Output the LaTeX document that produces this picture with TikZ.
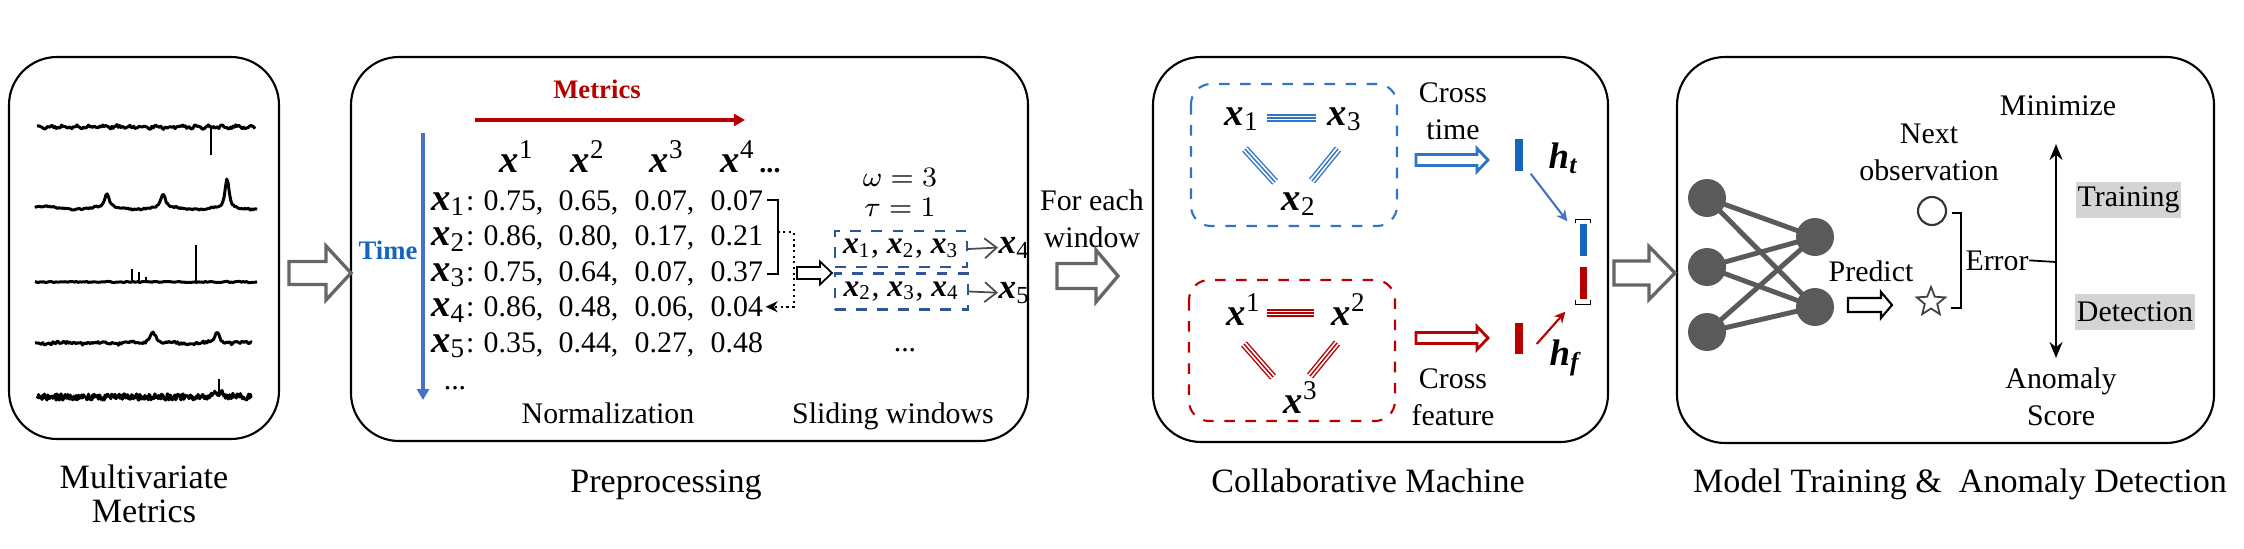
\documentclass[tikz,border=0pt]{standalone}
\usepackage{fontspec}
\setmainfont{Liberation Serif}
\usetikzlibrary{calc,arrows.meta,positioning,shapes.geometric}
\definecolor{arrgray}{HTML}{666666}
\definecolor{nngray}{HTML}{5A5A5A}
\definecolor{timec}{HTML}{1565C0}
\definecolor{timearr}{HTML}{4472C4}
\definecolor{timebox}{HTML}{2E75C8}
\definecolor{featc}{HTML}{B80000}
\definecolor{winc}{HTML}{2F5597}
\definecolor{hlgray}{HTML}{D4D4D4}
\newcommand{\bx}{\textbf{\textit{x}}}
\newcommand{\bh}{\textbf{\textit{h}}}
\tikzset{
  panel/.style={draw=black,line width=0.6pt,rounded corners=4.8mm},
  lbl/.style={font=\fontsize{8.5}{10.6}\selectfont,inner sep=0pt,align=center},
  captxt/.style={font=\fontsize{9.7}{9.5}\selectfont,inner sep=0pt,align=center},
  vec/.style={font=\fontsize{11}{13}\selectfont,inner sep=0pt},
  boldlbl/.style={font=\bfseries\fontsize{7.6}{9}\selectfont,inner sep=0pt},
  series/.style={line width=0.85pt,line join=round},
  winbox/.style={draw=winc,dashed,line width=0.6pt,minimum width=13.2mm,minimum height=3.6mm,inner sep=0pt,font=\fontsize{9}{11}\selectfont},
  bar/.style={inner sep=0pt,minimum width=0.8mm,minimum height=3.2mm},
  neuron/.style={circle,fill=nngray,inner sep=0pt,minimum size=3.8mm},
  hlbox/.style={fill=hlgray,inner sep=0pt,minimum height=3.6mm,font=\fontsize{8.5}{10}\selectfont},
  tri/.style={draw=#1,line width=0.4pt,preaction={draw=#1,double=white,double distance=1.4pt,line width=0.4pt}},
  thinarr/.style={black!70,line width=0.5pt,-{Straight Barb[length=1.2mm,width=2mm]}},
  pics/fatarrow/.style args={#1/#2/#3/#4}{code={
    \draw[pic actions] (0,-#2)--(#1-#4,-#2)--(#1-#4,-#3)--(#1,0)--(#1-#4,#3)--(#1-#4,#2)--(0,#2)--cycle;}}
}

\begin{document}
\begin{tikzpicture}[x=0.1mm,y=-0.1mm]
\useasboundingbox (0,0) rectangle (2244,548);
% the four panels
\draw[panel] (9,57) rectangle (279,439);
\draw[panel] (351,57) rectangle (1028,441);
\draw[panel] (1153,57) rectangle (1608,442);
\draw[panel] (1677,57) rectangle (2214,443);

% raw metrics
\pgfmathsetseed{11}
\draw[series] plot[domain=37:255,samples=170] (\x,{127+1.1*sin(27*\x)+1.4*rand});
\draw[series] (211,126)--(211,155);
\draw[series] plot[domain=35:257,samples=170] (\x,{208+1.5*sin(6*\x)+0.8*rand-13*(1/(1+((\x-107)/4)^2))^2-13*(1/(1+((\x-163)/4)^2))^2-28*(1/(1+((\x-227)/3.5)^2))^2});
\draw[series] plot[domain=35:257,samples=130] (\x,{282+0.6*rand});
\draw[series] (132,282)--(132,269) (139,282)--(139,272) (146,282)--(146,277) (196,282)--(196,245);
\draw[series] plot[domain=35:252,samples=170] (\x,{343+1.4*rand+0.8*sin(10*\x)-12*(1/(1+((\x-153)/5)^2))^2-10*(1/(1+((\x-217)/5)^2))^2});
\draw[series] plot[domain=37:252,samples=260] (\x,{397+3.2*rand-5/(1+((\x-219)/5)^2)});
\draw[series] (219,397)--(219,379);
\node[captxt] (capA) at (144,494) {Multivariate\\Metrics};

\pic[draw=arrgray,fill=white,line width=0.95pt] at (289,273) {fatarrow={62/11.5/27/25}};

% preprocessing
\node[boldlbl,text=featc,anchor=base] (mlab) at (597,98) {Metrics};
\coordinate (m0) at (475,120);
\coordinate (m1) at (745,120);
\draw[featc,line width=1pt,-{Triangle[length=1.1mm,width=1.2mm]}] (m0) -- (m1);
\node[boldlbl,text=timec,anchor=base] (tlab) at (388,259) {Time};
\coordinate (t0) at (423,133);
\coordinate (t1) at (423,400);
\draw[timearr,line width=0.9pt,-{Triangle[length=1.1mm,width=1.2mm]}] (t0) -- (t1);

\foreach \c/\xx in {1/517,2/588,3/667,4/738}
  \node[vec,anchor=base] (hd\c) at (\xx,172) {\bx\textsuperscript{\c}};
\node[font=\bfseries\itshape\fontsize{8}{9}\selectfont,inner sep=0pt,anchor=base] (hdots) at (771,172) {...};

\foreach \i/\va/\vb/\vc/\vd in {1/0.75/0.65/0.07/0.07,2/0.86/0.80/0.17/0.21,3/0.75/0.64/0.07/0.37,4/0.86/0.48/0.06/0.04,5/0.35/0.44/0.27/0.48}{
  \node[vec,anchor=base east] (x\i) at (475,{210+35.5*(\i-1)}) {\bx\textsubscript{\i}\fontsize{8.5}{10}\selectfont:};
  \node[lbl,anchor=base west] (r\i-1) at (483,{210+35.5*(\i-1)}) {\va,};
  \node[lbl,anchor=base west] (r\i-2) at (558,{210+35.5*(\i-1)}) {\vb,};
  \node[lbl,anchor=base west] (r\i-3) at (634,{210+35.5*(\i-1)}) {\vc,};
  \node[lbl,anchor=base west] (r\i-4) at (710,{210+35.5*(\i-1)}) {\vd};
}
\node[lbl] (rdots) at (455,388) {...};
\node[lbl,anchor=base] (norm) at (608,423) {Normalization};

\draw[line width=0.5pt] ($(r1-4.east)+(3,0)$) -- ++(11,0) coordinate (brtop) |- ($(r3-4.east)+(3,3)$);
\coordinate (brmid) at ($(brtop)+(0,32)$);
\draw[densely dotted,line width=0.6pt,-{Stealth[length=1.2mm,width=1.1mm]}] (brmid) -| ($(r4-4.east)+(30,0)$) -- ($(r4-4.east)+(2,0)$);

\pic[draw=black,fill=white,line width=0.5pt] at (797,273) {fatarrow={35/6/11.5/12}};

\node[lbl] (omega) at (900,177) {$\omega=3$};
\node[lbl] (tau) at (900,207) {$\tau=1$};
\node[winbox] (w1) at (901,249) {\bx\textsubscript{1}, \bx\textsubscript{2}, \bx\textsubscript{3}};
\node[winbox,minimum width=13.3mm] (w2) at (901.5,291.5) {\bx\textsubscript{2}, \bx\textsubscript{3}, \bx\textsubscript{4}};
\node[vec,font=\fontsize{10}{12}\selectfont,anchor=base west] (n4) at (998,253) {\bx\textsubscript{4}};
\node[vec,font=\fontsize{10}{12}\selectfont,anchor=base west] (n5) at (998,298) {\bx\textsubscript{5}};
\draw[thinarr] (w1.east) -- (n4.west);
\draw[thinarr] (w2.east) -- (n5.west);
\node[lbl] (wdots) at (905,350) {...};
\node[lbl,anchor=base] (slide) at (893,423) {Sliding windows};
\node[captxt,anchor=base] (capB) at (666,492) {Preprocessing};

\node[lbl] (each) at (1092,219) {For each\\window};
\pic[draw=arrgray,fill=white,line width=0.95pt] at (1057,276) {fatarrow={61/12.5/26/22}};

% collaborative machine
\draw[timebox,dashed,line width=0.6pt,rounded corners=2mm] (1191,84) rectangle (1397,226);
\draw[featc,dashed,line width=0.6pt,rounded corners=2mm] (1189,280) rectangle (1395,421);
\node[vec,anchor=base west] (a1) at (1224,125) {\bx\textsubscript{1}};
\node[vec,anchor=base west] (a3) at (1327,125) {\bx\textsubscript{3}};
\node[vec,anchor=base west] (a2) at (1281,210) {\bx\textsubscript{2}};
\draw[tri=timebox] ($(a1.base west)+(43,-7)$) -- ($(a3.base west)+(-11,-7)$);
\draw[tri=timebox] ($(a1.base west)+(21,24)$) -- ($(a2.base west)+(-6,-28)$);
\draw[tri=timebox] ($(a3.base west)+(11,24)$) -- ($(a2.base west)+(31,-29)$);
\node[vec,anchor=base west] (b1) at (1226,325) {\bx\textsuperscript{1}};
\node[vec,anchor=base west] (b2) at (1331,325) {\bx\textsuperscript{2}};
\node[vec,anchor=base west] (b3) at (1283,413) {\bx\textsuperscript{3}};
\draw[tri=featc] ($(b1.base west)+(41,-12)$) -- ($(b2.base west)+(-17,-12)$);
\draw[tri=featc] ($(b1.base west)+(18,19)$) -- ($(b3.base west)+(-10,-36)$);
\draw[tri=featc] ($(b2.base west)+(6,18)$) -- ($(b3.base west)+(27,-37)$);

\node[lbl] (ctime) at (1453,111) {Cross\\time};
\node[lbl] (cfeat) at (1453,397) {Cross\\feature};
\pic[draw=timebox,fill=white,line width=0.8pt] at (1416,160) {fatarrow={72/5.5/11.5/11}};
\pic[draw=featc,fill=white,line width=0.8pt] at (1416,338) {fatarrow={72/5.5/11.5/11}};

\node[bar,fill=timec] (ht) at (1519,155) {};
\node[bar,fill=featc,minimum height=3.1mm] (hf) at (1519,338.5) {};
\node[font=\fontsize{10.5}{12}\selectfont,inner sep=0pt,anchor=base west] (htl) at (1548,168) {\bh\textsubscript{\bfseries\itshape t}};
\node[font=\fontsize{10.5}{12}\selectfont,inner sep=0pt,anchor=base west] (hfl) at (1549,365) {\bh\textsubscript{\bfseries\itshape f}};
\node[bar,fill=timec,minimum width=0.7mm] (cb) at (1583.5,240) {};
\node[bar,fill=featc,minimum width=0.7mm] (cr) at (1583.5,283) {};
\draw[line width=0.4pt] ($(cb.north west)+(-4,0)$) -- ++(0,-4) -- ++(15,0) -- ++(0,4);
\draw[line width=0.4pt] ($(cr.south west)+(-4,0)$) -- ++(0,5) -- ++(15,0) -- ++(0,-5);
\draw[timearr,line width=0.6pt,-{Stealth[length=1.1mm,width=1.1mm]}] ($(ht.south east)+(7,2)$) -- ($(cb.north west)+(-12,-2)$);
\draw[featc,line width=0.6pt,-{Stealth[length=1.1mm,width=1.1mm]}] ($(hf.east)+(13,5.5)$) -- ($(cr.south west)+(-14,12)$);
\node[captxt,anchor=base] (capC) at (1368,492) {Collaborative Machine};

\pic[draw=arrgray,fill=white,line width=0.95pt] at (1614,273) {fatarrow={61/12/26.5/26}};

% model training and detection
\foreach \i/\yy in {1/198,2/267,3/332}
  \node[neuron] (l\i) at (1707,\yy) {};
\foreach \j/\yy in {1/237,2/307}
  \node[neuron] (o\j) at (1815,\yy) {};
\foreach \i in {1,2,3}
  \foreach \j in {1,2}
    \draw[nngray,line width=1.4pt] (l\i.center) -- (o\j.center);

\node[lbl,anchor=base] (pred) at (1871,281) {Predict};
\pic[draw=black,fill=white,line width=0.6pt] at (1848,305) {fatarrow={44/7/13/11}};
\node[lbl] (nxt) at (1929,152) {Next\\observation};
\node[circle,draw=black!80,line width=0.6pt,inner sep=0pt,minimum size=2.8mm] (obs) at (1932,211) {};
\node[star,star points=5,star point ratio=2.3,draw=black!75,line width=0.5pt,inner sep=0pt,minimum size=3mm] (est) at (1931,302) {};
\draw[line width=0.5pt] ($(obs.east)+(5,2)$) -- ++(9,0) |- ($(est.center)+(20,6)$);
\node[lbl,anchor=base] (err) at (1997,270) {Error};
\coordinate (axmid) at (2056,262);
\draw[line width=0.5pt] (err.east) -- (axmid);
\node[lbl,anchor=base] (mini) at (2058,115) {Minimize};
\node[lbl] (anom) at (2061,397) {Anomaly\\Score};
\coordinate (axtop) at (2056,144);
\coordinate (axbot) at (2056,358);
\draw[line width=0.6pt,{Stealth[length=1.6mm,width=1.3mm]}-{Stealth[length=1.6mm,width=1.3mm]}] (axtop) -- (axbot);
\node[hlbox,minimum width=10.5mm] (train) at (2128.5,200) {Training};
\node[hlbox,minimum width=12mm] (detect) at (2135,312) {Detection};
\node[captxt,anchor=base] (capD) at (1960,492) {Model Training \&\ \ Anomaly Detection};
\end{tikzpicture}
\end{document}
